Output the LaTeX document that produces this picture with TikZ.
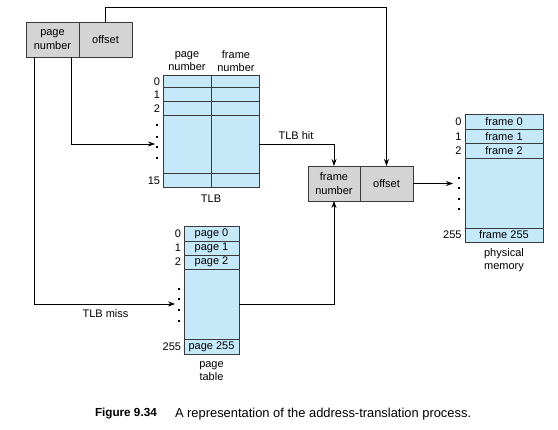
\documentclass[tikz,border=0pt]{standalone}
\usepackage{fontspec}
\setmainfont{Liberation Sans}
\usetikzlibrary{arrows.meta}
\definecolor{boxgray}{HTML}{D4D4D4}
\definecolor{tblue}{HTML}{C6E9F9}
\definecolor{edge}{HTML}{3A3A3A}
\begin{document}
\begin{tikzpicture}[x=1pt,y=-1pt,
  every node/.style={font=\fontsize{11}{13.5}\selectfont, inner sep=0pt, outer sep=0pt},
  gbox/.style={draw=edge, line width=0.7pt, fill=boxgray, align=center},
  tbl/.style={draw=edge, line width=0.7pt, fill=tblue},
  rowline/.style={draw=edge, line width=0.9pt},
  arr/.style={draw=black, line width=0.7pt, -{Stealth[length=7pt,width=5pt]}},
  conn/.style={draw=black, line width=0.7pt},
  lbl/.style={anchor=east},
  dotmark/.style={fill=black, minimum size=1.8pt, inner sep=0pt},
]
\useasboundingbox (0,0) rectangle (558,430);

% logical address
\node[gbox, minimum width=53pt, minimum height=35pt] (lap) at (52.5,39.5) {page\\number};
\node[gbox, minimum width=53pt, minimum height=35pt] (lao) at (105.5,39.5) {offset};

% physical address
\node[gbox, minimum width=52pt, minimum height=35pt] (paf) at (334,183.5) {frame\\number};
\node[gbox, minimum width=53pt, minimum height=35pt] (pao) at (386.5,183.5) {offset};

% TLB
\node[tbl, minimum width=96pt, minimum height=112pt] (tlb) at (211,131) {};
\draw[rowline] (163,87.7) -- (259,87.7);
\draw[rowline] (163,101.7) -- (259,101.7);
\draw[rowline] (163,115) -- (259,115);
\draw[draw=edge, line width=0.6pt] (163,173.3) -- (259,173.3);
\draw[draw=edge, line width=0.6pt] (211,75) -- (211,187);
\node[align=center] (tlbh1) at (187,61) {page\\number};
\node[align=center] (tlbh2) at (236,61) {frame\\number};
\node[lbl] (t0) at (160,81.5) {0};
\node[lbl] (t1) at (160,95) {1};
\node[lbl] (t2) at (160,108.5) {2};
\node[lbl] (t15) at (160,180.5) {15};
\foreach \y [count=\i] in {125,137,147,158} \node[dotmark] (td\i) at (157,\y) {};
\node (tlbcap) at (211,199) {TLB};

% physical memory
\node[tbl, minimum width=78pt, minimum height=128pt] (pm) at (504,178) {};
\draw[draw=edge, line width=0.6pt] (465,129) -- (543,129);
\draw[draw=edge, line width=0.6pt] (465,143.5) -- (543,143.5);
\draw[draw=edge, line width=0.6pt] (465,158) -- (543,158);
\draw[draw=edge, line width=0.6pt] (465,228) -- (543,228);
\node (pm0) at (504,121.5) {frame 0};
\node (pm1) at (504,136.3) {frame 1};
\node (pm2) at (504,150.8) {frame 2};
\node (pm255) at (504,235) {frame 255};
\node[lbl] (m0) at (461.5,121.5) {0};
\node[lbl] (m1) at (461.5,136.3) {1};
\node[lbl] (m2) at (461.5,150.8) {2};
\node[lbl] (m255) at (461.5,235) {255};
\foreach \y [count=\i] in {178,188,199,209} \node[dotmark] (md\i) at (459,\y) {};
\node[align=center] (pmcap) at (504,260) {physical\\memory};

% page table
\node[tbl, minimum width=55pt, minimum height=128pt] (pt) at (211.5,290) {};
\draw[draw=edge, line width=0.6pt] (184,241) -- (239,241);
\draw[draw=edge, line width=0.6pt] (184,255) -- (239,255);
\draw[draw=edge, line width=0.6pt] (184,269) -- (239,269);
\draw[draw=edge, line width=0.6pt] (184,339.5) -- (239,339.5);
\node (pt0) at (211.5,233.5) {page 0};
\node (pt1) at (211.5,248) {page 1};
\node (pt2) at (211.5,262) {page 2};
\node (pt255) at (211.5,347) {page 255};
\node[lbl] (p0) at (181,233.5) {0};
\node[lbl] (p1) at (181,248) {1};
\node[lbl] (p2) at (181,262) {2};
\node[lbl] (p255) at (181,347) {255};
\foreach \y [count=\i] in {289,299,310,321} \node[dotmark] (pd\i) at (179,\y) {};
\node[align=center] (ptcap) at (211.5,371) {page\\table};

% connector end points
\coordinate (top) at (105.5,7);
\coordinate (tlbin) at (155,144);
\coordinate (ptin) at (175,304);
\coordinate (pmin) at (453,183.5);

% connectors
\draw[arr] (lao.north) -- (top) -| (pao.north);
\draw[arr] (lap.south -| 71,0) |- (tlbin);
\draw[arr] (lap.south -| 34,0) |- (ptin);
\draw[arr] (tlb.east |- 0,144) -| (paf.north);
\node[anchor=south] (hit) at (296,140) {TLB hit};
\draw[arr] (pt.east |- 0,304) -| (paf.south);
\node (miss) at (105.5,314) {TLB miss};
\draw[arr] (pao.east) -- (pmin);

% caption
\node[anchor=west] (capf) at (95,414) {\fontsize{11.7}{14}\selectfont\bfseries Figure 9.34};
\node[anchor=west] (capt) at (175,414) {\fontsize{12.9}{15}\selectfont A representation of the address-translation process.};
\end{tikzpicture}
\end{document}
